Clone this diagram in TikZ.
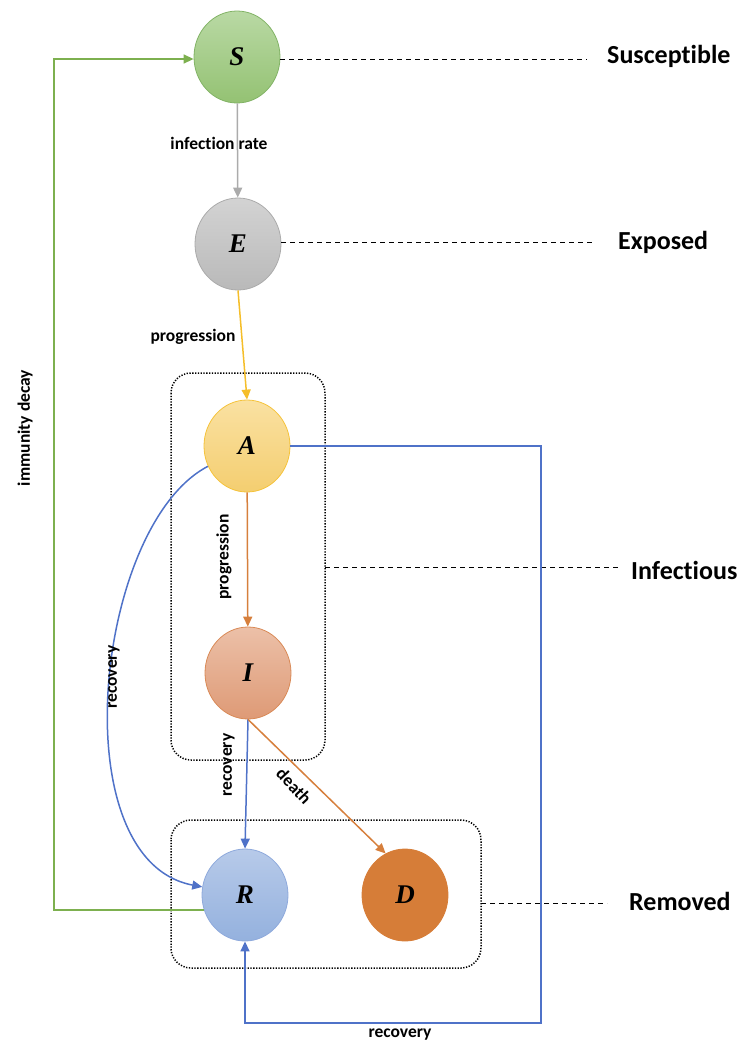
\documentclass[tikz,border=0pt]{standalone}
\usepackage{fontspec}
\setmainfont[Ligatures={NoCommon}]{Carlito}
\newfontfamily\letterfont{Liberation Serif}
\usetikzlibrary{arrows.meta,shapes.geometric}
\definecolor{gborder}{HTML}{82B366}
\definecolor{gtop}{HTML}{B9D9A4}
\definecolor{gbot}{HTML}{94C273}
\definecolor{etop}{HTML}{D3D3D3}
\definecolor{ebot}{HTML}{B9B9B9}
\definecolor{eborder}{HTML}{ABABAB}
\definecolor{atop}{HTML}{FAE1A2}
\definecolor{abot}{HTML}{F4CE70}
\definecolor{aborder}{HTML}{F5C33B}
\definecolor{itop}{HTML}{ECC0A8}
\definecolor{ibot}{HTML}{DE9A76}
\definecolor{iborder}{HTML}{D98A57}
\definecolor{rtop}{HTML}{B7CAE9}
\definecolor{rbot}{HTML}{94B1DE}
\definecolor{rborder}{HTML}{8FAADC}
\definecolor{dfill}{HTML}{D67D38}
\definecolor{cgray}{HTML}{ABABAB}
\definecolor{cyellow}{HTML}{F5BE2A}
\definecolor{corange}{HTML}{D67F3C}
\definecolor{cblue}{HTML}{4F72C8}
\definecolor{cgreen}{HTML}{7DB04F}
\tikzset{
  comp/.style={ellipse, minimum width=86pt, minimum height=92pt, inner sep=0pt,
    font=\letterfont\fontsize{27}{30}\selectfont\bfseries\itshape, line width=0.8pt},
  conn/.style={line width=1.5pt, -{Triangle[length=10pt,width=9pt]}},
  lbl/.style={font=\fontsize{17.5}{20}\selectfont\bfseries, inner sep=1pt},
  biglbl/.style={font=\fontsize{26}{29}\selectfont\bfseries, inner sep=0pt, anchor=west},
  guide/.style={line width=0.8pt, dash pattern=on 5pt off 4pt},
  group/.style={line width=1.5pt, dash pattern=on 1.3pt off 1.5pt, rounded corners=20pt}
}
\begin{document}
\begin{tikzpicture}[x=1pt,y=-1pt]
\useasboundingbox (0,0) rectangle (747,1045);
% groups
\draw[group] (171,373) rectangle (325,760);
\draw[group] (171,820) rectangle (481,968);
\coordinate (infR) at (325,567);
\coordinate (remR) at (481,903);
% compartments
\node[comp, draw=gborder, top color=gtop, bottom color=gbot] (S) at (237,57) {S};
\node[comp, draw=eborder, top color=etop, bottom color=ebot] (E) at (238,244) {E};
\node[comp, draw=aborder, top color=atop, bottom color=abot] (A) at (247,446) {A};
\node[comp, draw=iborder, top color=itop, bottom color=ibot] (I) at (248,673) {I};
\node[comp, draw=rborder, top color=rtop, bottom color=rbot] (R) at (245,895) {R};
\node[comp, draw=dfill, fill=dfill] (D) at (405,895) {D};
% side labels
\node[biglbl] (lS) at (607,56) {Susceptible};
\node[biglbl] (lE) at (618,242) {Exposed};
\node[biglbl] (lI) at (631,570) {Infectious};
\node[biglbl] (lR) at (629,901) {Removed};
\coordinate (dS) at (587,59);
\coordinate (dE) at (594,242);
\coordinate (dI) at (618,567);
\coordinate (dR) at (607,903);
\draw[guide] (S.east |- dS) -- (dS);
\draw[guide] (E.east |- dE) -- (dE);
\draw[guide] (infR) -- (dI);
\draw[guide] (remR) -- (dR);
% connectors
\draw[conn, cgray] (S) -- (E);
\draw[conn, cyellow] (E.south) -- (A.north);
\draw[conn, corange] (A) -- (I);
\draw[conn, cblue] (I.south) -- (R.north);
\draw[conn, corange] (I.south) -- (D.115);
\draw[conn, cblue] (A) .. controls (95,525) and (60,860) .. (R);
\coordinate (br) at (541,1023);
\draw[conn, cblue] (A.east) -| (br) -| (R.south);
\coordinate (gl) at (54,59);
\draw[conn, cgreen] (R.200) -| (gl) -- (gl -| S.west);
% connector labels
\node[lbl] (tInf) at (219,143) {infection rate};
\node[lbl] (tProg1) at (193,337) {progression};
\node[lbl, rotate=90] (tProg2) at (224,557) {progression};
\node[lbl, rotate=90] (tRec1) at (114,677) {recovery};
\node[lbl, rotate=90] (tRec2) at (229,765) {recovery};
\node[lbl, rotate=-47] (tDeath) at (294,786) {death};
\node[lbl, rotate=90] (tImm) at (25,428) {immunity decay};
\node[lbl] (tRec3) at (400,1035) {recovery};
\end{tikzpicture}
\end{document}
